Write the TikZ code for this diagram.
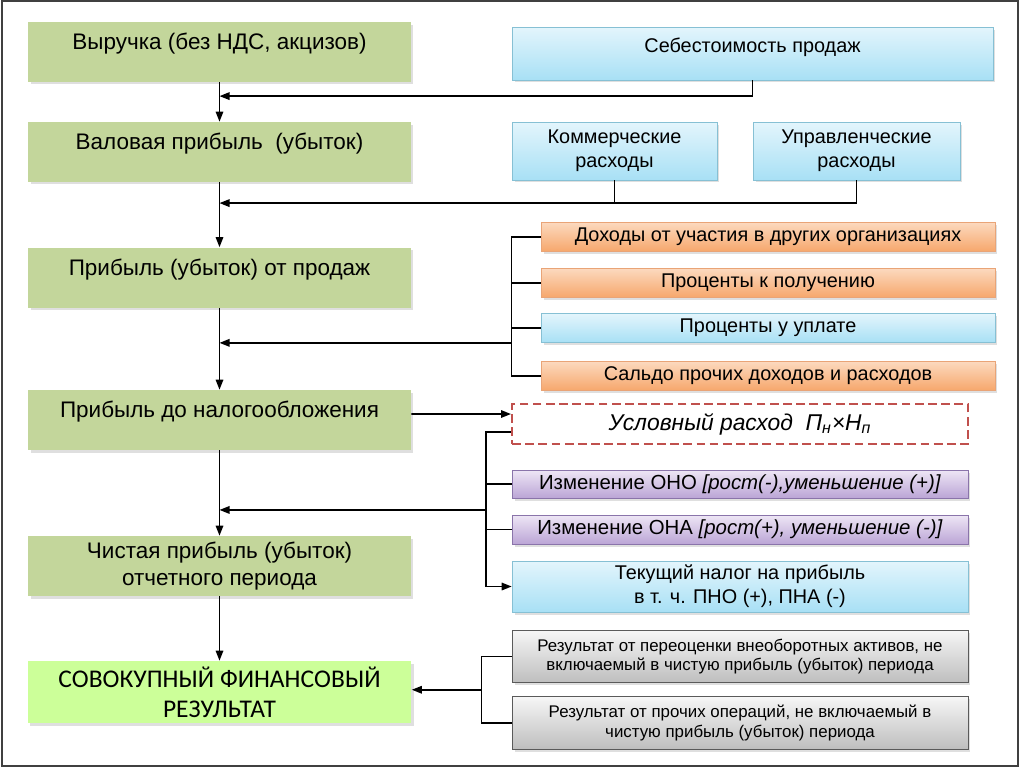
\documentclass[tikz,border=0pt]{standalone}
\usepackage{fontspec}
\setmainfont{Liberation Sans}
\newfontfamily\calibrifont{Carlito}
\usepackage{xcolor}
\usepackage{tikz}
\usetikzlibrary{positioning, arrows.meta, calc, shadows}

\definecolor{olivegreen}{HTML}{C3D69B}
\definecolor{limegreen}{HTML}{CCFF99}
\definecolor{cyantop}{HTML}{E3F5FC}
\definecolor{cyanbot}{HTML}{A8E0F5}
\definecolor{cyanline}{HTML}{86C0D4}
\definecolor{orangetop}{HTML}{FCD9BE}
\definecolor{orangebot}{HTML}{F6A76C}
\definecolor{orangeline}{HTML}{E9A477}
\definecolor{violettop}{HTML}{EEE6F5}
\definecolor{violetbot}{HTML}{BBA5D6}
\definecolor{violetline}{HTML}{8A74AA}
\definecolor{greytop}{HTML}{F6F6F6}
\definecolor{greybot}{HTML}{BEBEBE}
\definecolor{greyline}{HTML}{5A5A5A}
\definecolor{dashred}{HTML}{C0504D}

\begin{document}
\begin{tikzpicture}[
    x=0.02cm, y=-0.02cm,
    box/.style={rectangle, align=center, inner sep=2pt,
        drop shadow={shadow xshift=0.05cm, shadow yshift=-0.05cm, opacity=0.25}},
    greenbox/.style={box, fill=olivegreen, minimum width=7.66cm, minimum height=1.2cm,
        font=\fontsize{12.8}{15.2}\selectfont},
    topline/.style={text height=13.8pt, text depth=16.2pt},
    totalbox/.style={box, fill=limegreen, minimum width=7.68cm, minimum height=1.24cm,
        font=\calibrifont\fontsize{14.5}{17}\selectfont},
    bluebox/.style={box, draw=cyanline, top color=cyantop, bottom color=cyanbot,
        font=\fontsize{11.3}{13.6}\selectfont},
    orangebox/.style={box, draw=orangeline, top color=orangetop, bottom color=orangebot,
        font=\fontsize{11.3}{13.6}\selectfont},
    violetbox/.style={box, draw=violetline, top color=violettop, bottom color=violetbot,
        minimum width=9.12cm, font=\fontsize{11.6}{13.6}\selectfont},
    greybox/.style={box, draw=greyline, top color=greytop, bottom color=greybot,
        minimum width=9.12cm, minimum height=1.05cm, font=\fontsize{9.6}{11.3}\selectfont},
    thinbox/.style={minimum width=9.08cm, minimum height=0.58cm},
    condbox/.style={rectangle, draw=dashred, line width=1.2pt, dash pattern=on 5pt off 2.5pt,
        fill=white, minimum width=9.12cm, minimum height=0.8cm,
        font=\fontsize{13}{15}\selectfont\itshape},
    conn/.style={line width=0.9pt},
    arr/.style={conn, -{Triangle[length=0.2cm, width=0.15cm]}},
]
\useasboundingbox (0,0) rectangle (1024,768);
\draw[line width=1pt, black!75] (2,1) rectangle (1018,766);

% left column
\node[greenbox, topline] (rev) at (219.5,52) {Выручка (без НДС, акцизов)};
\node[greenbox, topline] (gross) at (219.5,152) {Валовая прибыль\ \ (убыток)};
\node[greenbox, topline] (sales) at (219.5,277.5) {Прибыль (убыток) от продаж};
\node[greenbox, topline] (pretax) at (219.5,420) {Прибыль до налогообложения};
\node[greenbox] (net) at (219.5,566) {Чистая прибыль (убыток)\\отчетного периода};
\node[totalbox] (total) at (219.5,692) {СОВОКУПНЫЙ ФИНАНСОВЫЙ\\РЕЗУЛЬТАТ};

% expenses
\node[bluebox, minimum width=9.62cm, minimum height=1.06cm, text height=12.2pt, text depth=13.8pt]
    (cost) at (752.5,53.5) {Себестоимость продаж};
\node[bluebox, minimum width=4.1cm, minimum height=1.16cm] (comm) at (614.5,151) {Коммерческие\\расходы};
\node[bluebox, minimum width=4.14cm, minimum height=1.16cm] (adm) at (856.5,151) {Управленческие\\расходы};

% other income and expenses
\node[orangebox, thinbox] (part) at (768,237) {Доходы от участия в других организациях};
\node[orangebox, thinbox] (recv) at (768,283) {Проценты к получению};
\node[bluebox, thinbox] (pay) at (768,328) {Проценты у уплате};
\node[orangebox, thinbox] (bal) at (768,376) {Сальдо прочих доходов и расходов};

% tax
\node[condbox] (cond) at (740,424) {Условный расход\ \ П\textsubscript{н}×Н\textsubscript{п}};
\node[violetbox, minimum height=0.56cm] (ono) at (740,484) {Изменение ОНО \textit{[рост(-),уменьшение (+)]}};
\node[violetbox, minimum height=0.58cm] (ona) at (740,529.5) {Изменение ОНА \textit{[рост(+), уменьшение (-)]}};
\node[bluebox, minimum width=9.12cm, minimum height=1.02cm] (curtax) at (740,586.5) {Текущий налог на прибыль\\в т. ч. ПНО (+), ПНА (-)};

% not in net profit
\node[greybox] (reval) at (740,656.5) {Результат от переоценки внеоборотных активов, не\\включаемый в чистую прибыль (убыток) периода};
\node[greybox] (other) at (740,723) {Результат от прочих операций, не включаемый в\\чистую прибыль (убыток) периода};

% connectors
\draw[arr] (rev) -- (gross);
\coordinate (j1) at ($(rev.south)!0.35!(gross.north)$);
\draw[arr] (cost.south) |- (j1);
\draw[arr] (gross) -- (sales);
\coordinate (j2) at ($(gross.south)!0.32!(sales.north)$);
\draw[arr] (adm.south) |- (j2);
\draw[conn] (comm.south) -- (comm.south |- j2);
\draw[conn] (part.west) -- ++(-29,0) |- (bal.west);
\draw[conn] (recv.west) -- ++(-29,0);
\draw[conn] (pay.west) -- ++(-29,0);
\coordinate (j3) at ($(pay.south west)+(-29,0)$);
\draw[arr] (j3) -- (j3 -| sales.south);
\draw[arr] (sales) -- (pretax);
\draw[arr] ([yshift=0.12cm]pretax.east) -- ([yshift=0.2cm]cond.west);
\draw[arr] ([yshift=-0.16cm]cond.west) -- ++(-25,0) |- (curtax.west);
\draw[conn] (ono.west) -- ++(-25,0);
\draw[conn] (ona.west) -- ++(-25,0);
\coordinate (j4) at ($(ono.west)!0.57!(ona.west)+(-25,0)$);
\draw[arr] (j4) -- (j4 -| net.north);
\draw[arr] (pretax) -- (net);
\draw[arr] (net) -- (total);
\draw[conn] (reval.west) -- ++(-30,0) |- (other.west);
\coordinate (j5) at ($(reval.west)!0.5!(other.west)+(-30,0)$);
\draw[arr] (j5) -- (j5 -| total.east);
\end{tikzpicture}
\end{document}
